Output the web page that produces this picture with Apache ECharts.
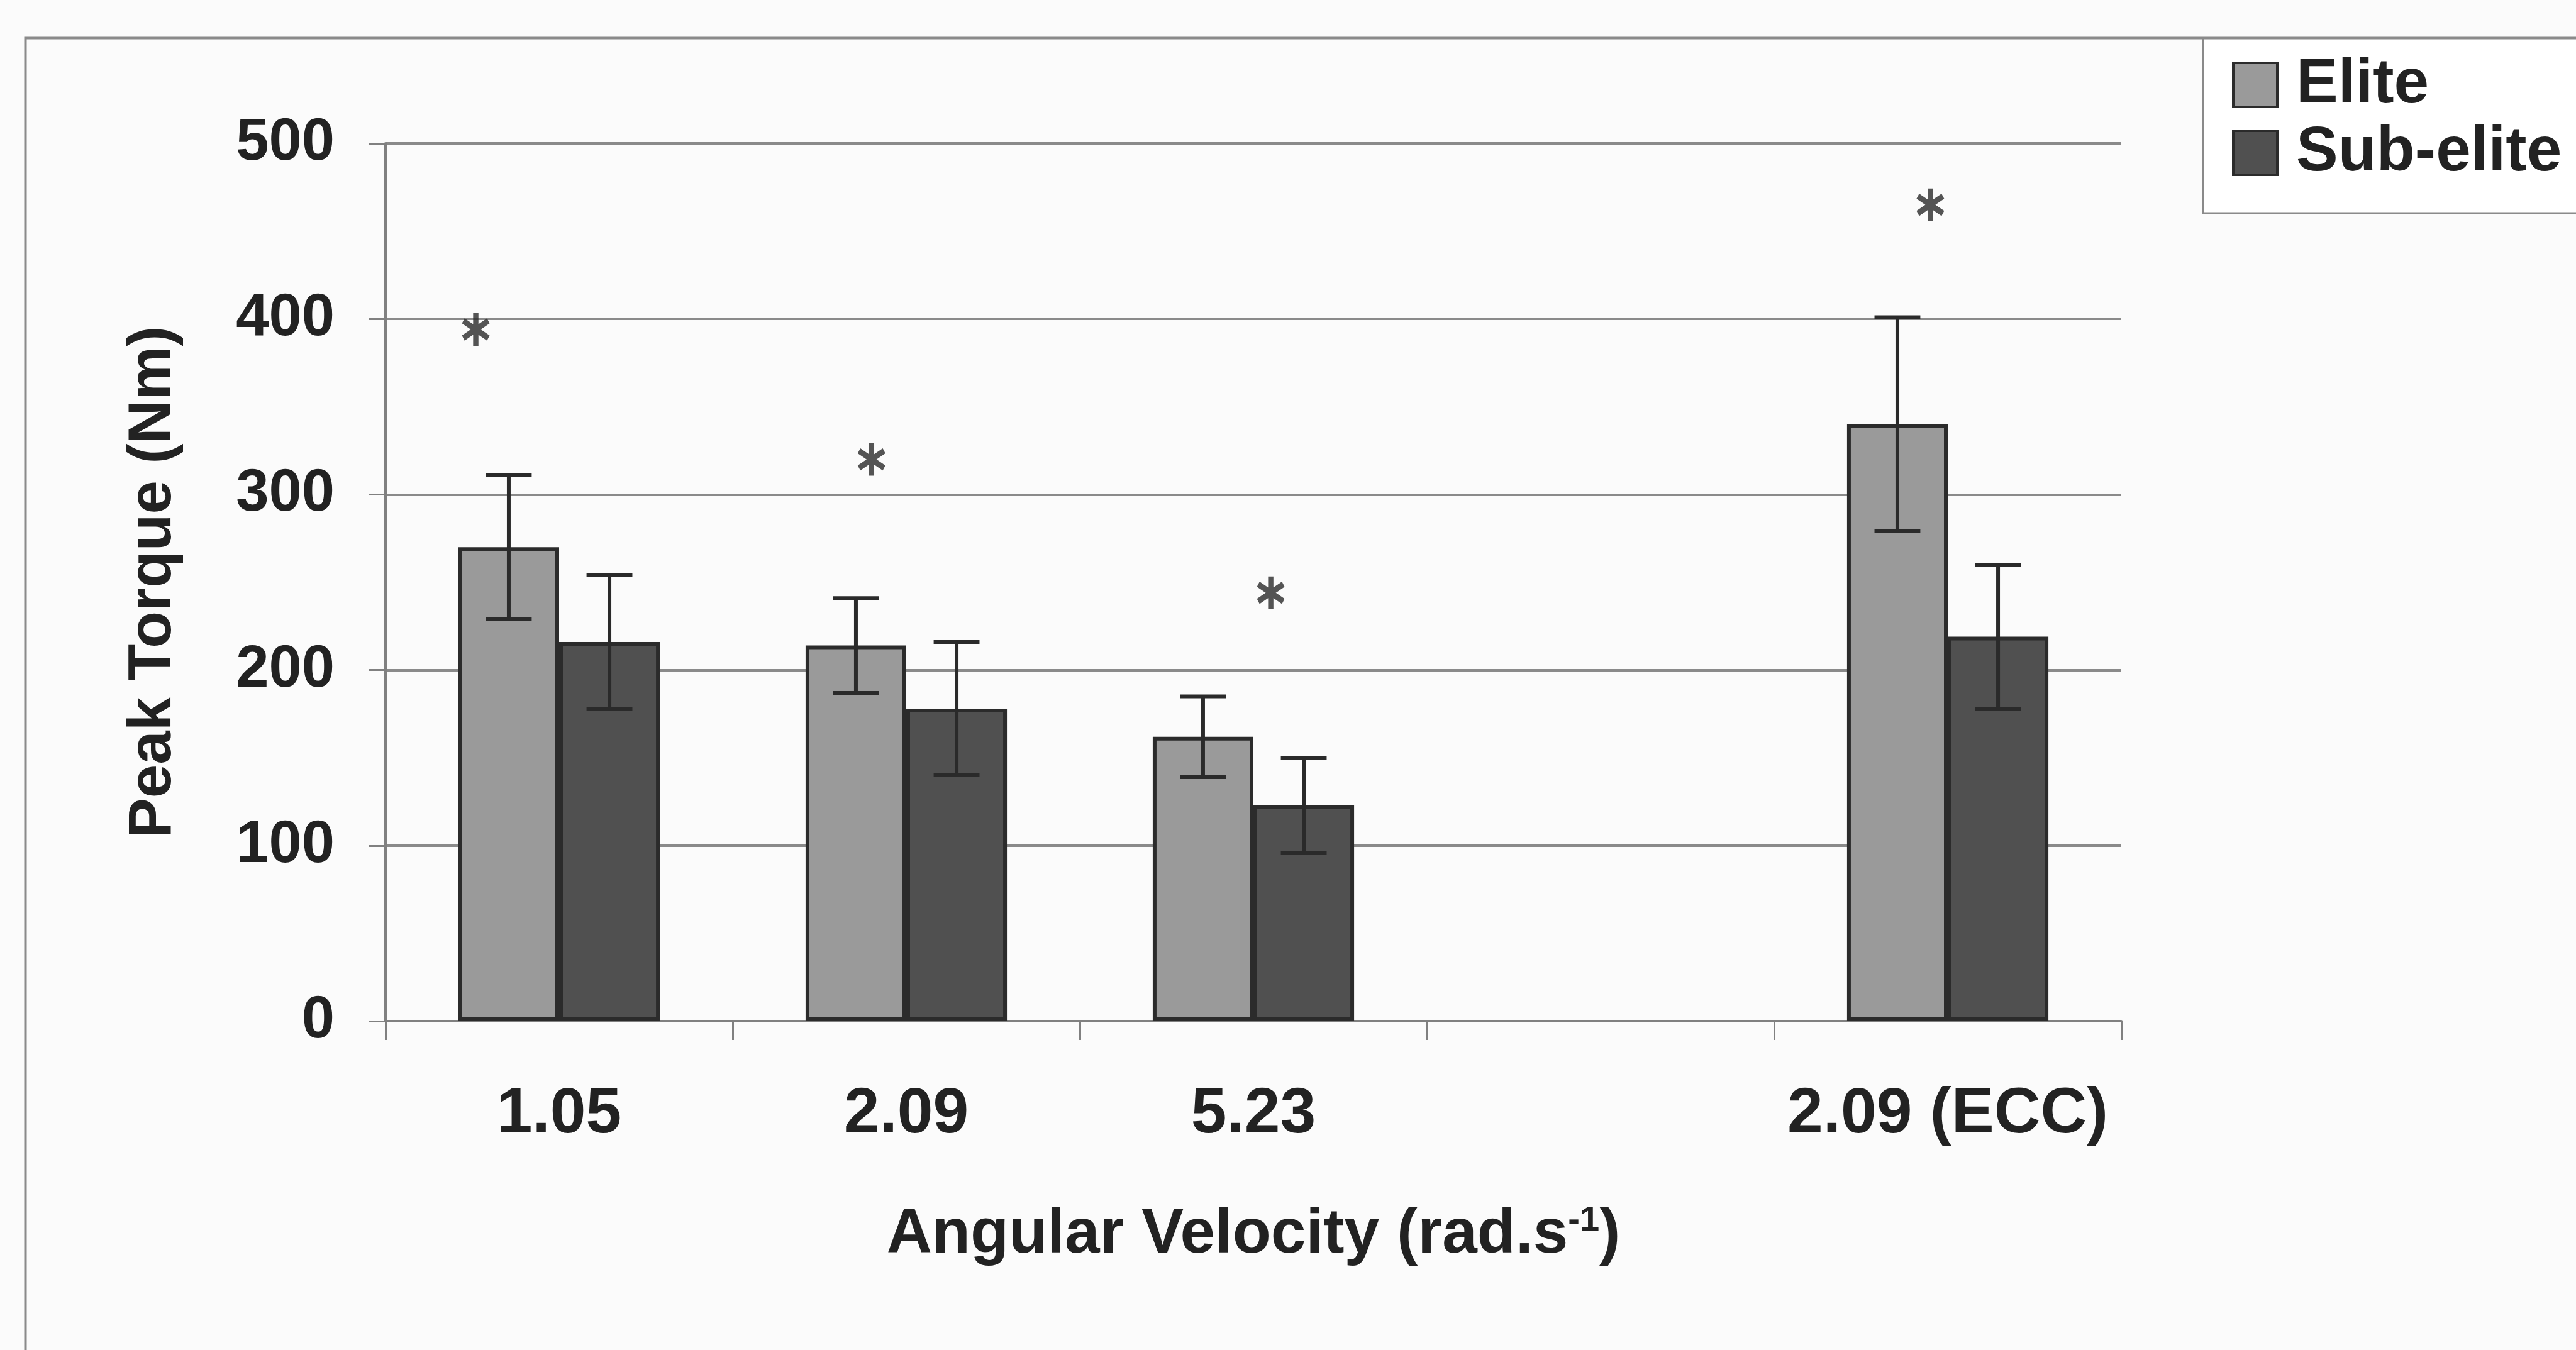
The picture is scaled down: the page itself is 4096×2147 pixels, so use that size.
<!DOCTYPE html>
<html>
<head>
<meta charset="utf-8">
<script src="https://cdn.jsdelivr.net/npm/echarts@6/dist/echarts.min.js"></script>
<style>
    html, body {margin: 0; padding: 0; background: #fbfbfb;}
    #app {width: 4096px; height: 2147px;}
</style>
</head>
<body>
<div id="app"></div>
<script>
// angular velocity groups (the 4th slot is an empty gap on the axis)
var categories = ['1.05', '2.09', '5.23', '', '2.09 (ECC)']
var eliteMean = [270, 214, 162, '-', 340]
var eliteSD = [41, 27, 23, '-', 61]
var subMean = [216, 178, 123, '-', 219]
var subSD = [38, 38, 27, '-', 41]
// significance stars: x in category units, y in Nm
var starX = [-0.24, 0.9, 2.05, 3.95]
var starY = [394, 320, 244, 465]

var font = "'Liberation Sans', Arial, sans-serif"
var starPath = 'path://M82 0L118 0L118 200L82 200Z M176.1 32L194.1 63L23.9 168L5.9 137Z M5.9 63L23.9 32L194.1 137L176.1 168Z'

// low/high pairs for the error bars
var errData = (mean, sd) => {
    var out = []
    for (var i = 0; i < mean.length; i++) {
        if (mean[i] === '-') continue
        out.push([i, mean[i] - sd[i], mean[i] + sd[i]])
    }
    return out
}

var errBar = (off) => (params, api) => {
    var w = api.size([1, 0])[0]
    var lo = api.coord([api.value(0), api.value(1)])
    var hi = api.coord([api.value(0), api.value(2)])
    var x = lo[0] + off * w
    var cap = 0.066 * w
    var style = {stroke: '#2a2a2a', lineWidth: 6}
    return {
        type: 'group',
        children: [
            {type: 'line', shape: {x1: x, y1: lo[1], x2: x, y2: hi[1]}, style: style},
            {type: 'line', shape: {x1: x - cap, y1: hi[1], x2: x + cap, y2: hi[1]}, style: style},
            {type: 'line', shape: {x1: x - cap, y1: lo[1], x2: x + cap, y2: lo[1]}, style: style}
        ]
    }
}

var stars = starX.map((x, i) => [x, starY[i]])

var chart = echarts.init(document.getElementById('app'))

chart.setOption({
    backgroundColor: '#fbfbfb',
    animation: false,
    textStyle: {fontFamily: font},
    graphic: [{
        type: 'rect',
        left: 38,
        top: 58,
        shape: {width: 4200, height: 2300},
        style: {fill: 'none', stroke: '#8a8a8a', lineWidth: 4},
        z: -1
    }],
    legend: {
        orient: 'vertical',
        left: 3503,
        top: 61,
        data: ['Elite', 'Sub-elite'],
        icon: 'rect',
        itemWidth: 70,
        itemHeight: 70,
        itemGap: 8,
        padding: [24, 300, 46, 46],
        backgroundColor: '#ffffff',
        borderColor: '#8a8a8a',
        borderWidth: 3,
        itemStyle: {borderWidth: 4},
        textStyle: {
            fontFamily: font,
            fontSize: 100,
            lineHeight: 100,
            fontWeight: 'bold',
            color: '#222',
            padding: [0, 0, 0, 25]
        }
    },
    grid: {
        left: 613,
        right: 723,
        top: 228,
        bottom: 523,
        outerBoundsMode: 'none'
    },
    xAxis: [
        {
            type: 'category',
            data: categories,
            name: 'Angular Velocity (rad.s{sup|-1})',
            nameLocation: 'middle',
            nameGap: 290,
            nameTextStyle: {
                fontFamily: font,
                fontSize: 100,
                fontWeight: 'bold',
                color: '#222',
                rich: {
                    sup: {fontFamily: font, fontSize: 56, fontWeight: 'bold', color: '#222', verticalAlign: 'top', lineHeight: 100}
                }
            },
            axisLine: {lineStyle: {color: '#808080', width: 4}},
            axisTick: {show: true, interval: 0, length: 30, lineStyle: {color: '#808080', width: 3}},
            axisLabel: {
                interval: 0,
                margin: 98,
                fontFamily: font,
                fontSize: 102,
                fontWeight: 'bold',
                color: '#222'
            }
        },
        {
            type: 'value',
            min: -0.5,
            max: 4.5,
            show: false
        }
    ],
    yAxis: {
        type: 'value',
        min: 0,
        max: 500,
        interval: 100,
        name: 'Peak Torque (Nm)',
        nameLocation: 'middle',
        nameGap: 320,
        nameTextStyle: {
            fontFamily: font,
            fontSize: 96,
            fontWeight: 'bold',
            color: '#222'
        },
        axisLine: {show: true, onZero: false, lineStyle: {color: '#808080', width: 4}},
        axisTick: {show: true, length: 27, lineStyle: {color: '#808080', width: 3}},
        axisLabel: {
            margin: 81,
            fontFamily: font,
            fontSize: 94,
            fontWeight: 'bold',
            color: '#222'
        },
        splitLine: {lineStyle: {color: '#8a8a8a', width: 4}}
    },
    series: [
        {
            name: 'Elite',
            type: 'bar',
            data: eliteMean,
            barGap: '0%',
            barCategoryGap: '42%',
            itemStyle: {color: '#9a9a9a', borderColor: '#2b2b2b', borderWidth: 6}
        },
        {
            name: 'Sub-elite',
            type: 'bar',
            data: subMean,
            itemStyle: {color: '#505050', borderColor: '#2b2b2b', borderWidth: 6}
        },
        {
            type: 'custom',
            renderItem: errBar(-0.145),
            data: errData(eliteMean, eliteSD),
            z: 5
        },
        {
            type: 'custom',
            renderItem: errBar(0.145),
            data: errData(subMean, subSD),
            z: 5
        },
        {
            type: 'scatter',
            xAxisIndex: 1,
            data: stars,
            symbol: starPath,
            symbolSize: [44, 52],
            itemStyle: {color: '#2a2a2a'},
            z: 6
        }
    ]
})
</script>
</body>
</html>
